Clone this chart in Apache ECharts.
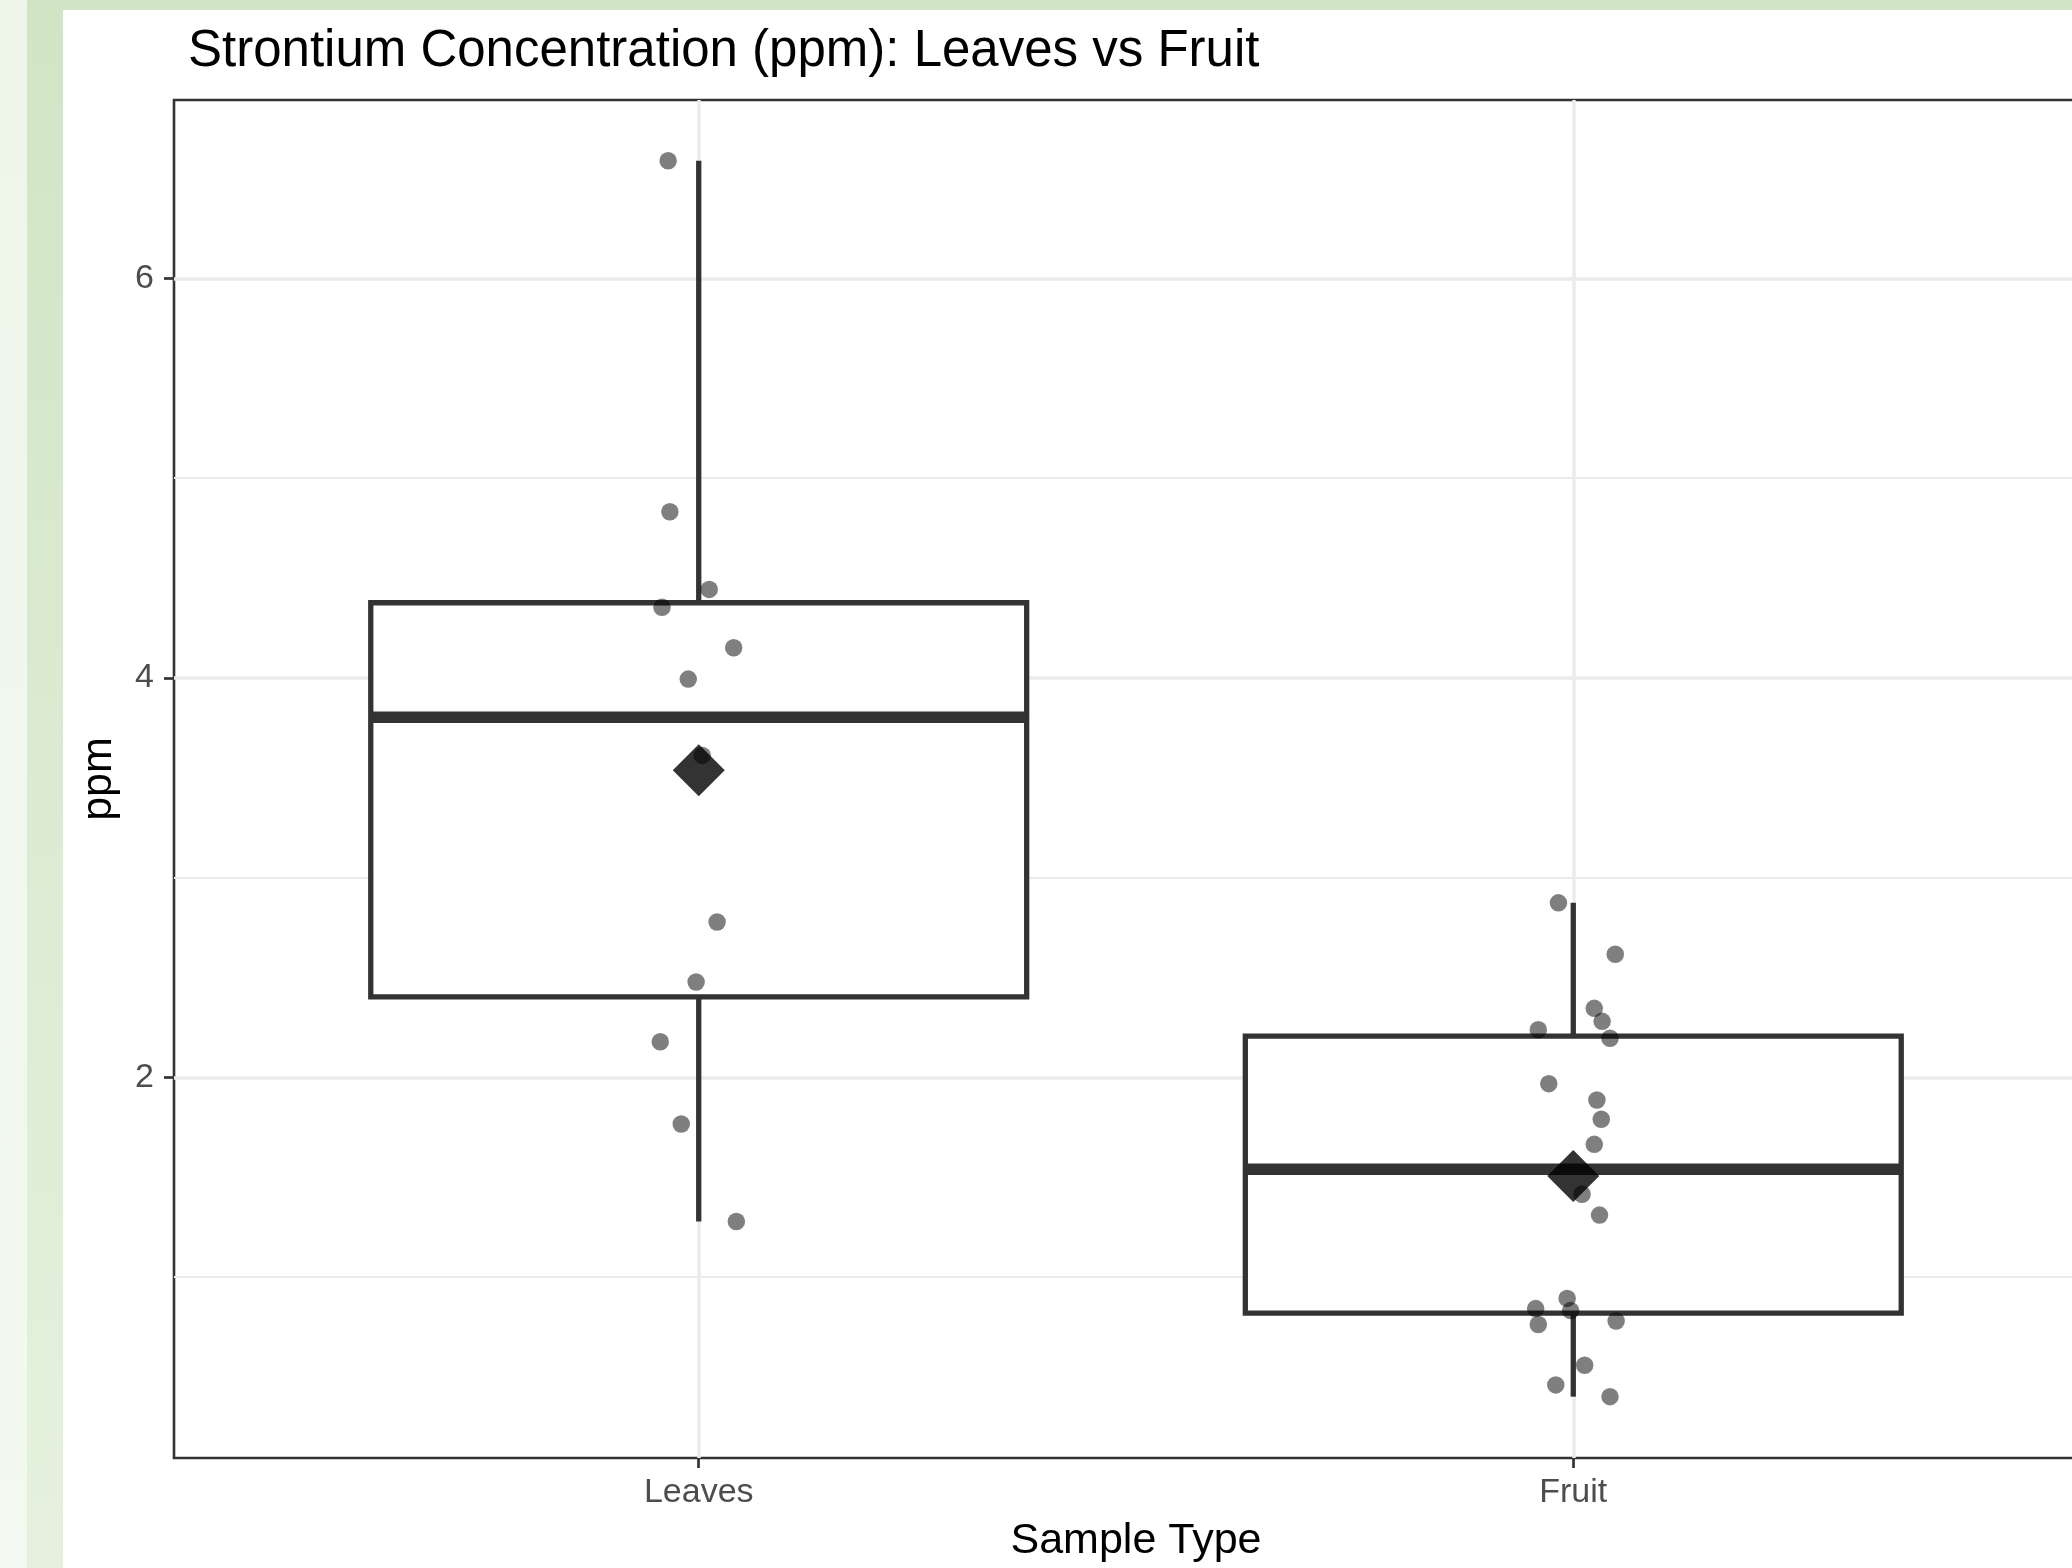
<!DOCTYPE html>
<html>
<head>
<meta charset="utf-8">
<script src="https://cdn.jsdelivr.net/npm/echarts@6/dist/echarts.min.js"></script>
<style>
  html, body { margin: 0; padding: 0; width: 2072px; height: 1568px; overflow: hidden; background: #ffffff; position: relative; }
  #bgL { position: absolute; left: 0; top: 0; width: 27px; height: 1568px; background: linear-gradient(#eef6ea, #f3f9f0); }
  #bgG { position: absolute; left: 27px; top: 0; width: 36px; height: 1568px; background: linear-gradient(#d1e5c5, #e5f1de); }
  #bgT { position: absolute; left: 27px; top: 0; width: 2045px; height: 10px; background: #d1e5c5; }
  #chart { position: absolute; left: 0; top: 0; width: 2110px; height: 1568px; }
</style>
</head>
<body>
<div id="bgL"></div>
<div id="bgG"></div>
<div id="bgT"></div>
<div id="chart"></div>
<script>
// ---- data ----
const CATEGORIES = ['Leaves', 'Fruit'];
const CATEGORY_POS = [1, 2];
const LEAVES_PPM = [6.589, 4.832, 4.443, 4.354, 4.151, 3.994, 3.612, 2.778, 2.478, 2.179, 1.767, 1.279];
const LEAVES_JITTER = [-0.035, -0.033, 0.012, -0.042, 0.040, -0.012, 0.004, 0.021, -0.003, -0.044, -0.020, 0.043];
const FRUIT_PPM = [2.874, 2.617, 2.346, 2.281, 2.239, 2.196, 1.969, 1.887, 1.791, 1.665, 1.415, 1.311, 0.894, 0.843, 0.833, 0.763, 0.781, 0.559, 0.461, 0.402];
const FRUIT_JITTER = [-0.017, 0.048, 0.024, 0.033, -0.040, 0.042, -0.028, 0.027, 0.032, 0.024, 0.010, 0.030, -0.007, -0.043, -0.003, -0.040, 0.049, 0.013, -0.020, 0.042];
const Y_TICKS = [2, 4, 6];
const Y_MINOR = [1, 3, 5];
const Y_MIN = 0.095;
const Y_MAX = 6.893;
const X_MIN = 0.4;
const X_MAX = 2.6;
const BOX_WIDTH = 0.75;

// ---- statistics (ggplot-style, quantile type 7) ----
function quantile(sorted, p) {
  const h = (sorted.length - 1) * p;
  const lo = Math.floor(h);
  const hi = Math.min(lo + 1, sorted.length - 1);
  return sorted[lo] + (h - lo) * (sorted[hi] - sorted[lo]);
}
function boxStats(values) {
  const s = values.slice().sort((a, b) => a - b);
  const q1 = quantile(s, 0.25), med = quantile(s, 0.5), q3 = quantile(s, 0.75);
  const iqr = q3 - q1;
  const lo = Math.min(...s.filter(v => v >= q1 - 1.5 * iqr));
  const hi = Math.max(...s.filter(v => v <= q3 + 1.5 * iqr));
  return [lo, q1, med, q3, hi];
}
const mean = a => a.reduce((x, y) => x + y, 0) / a.length;

const groups = [LEAVES_PPM, FRUIT_PPM];
const jitters = [LEAVES_JITTER, FRUIT_JITTER];
const boxData = groups.map((g, i) => [CATEGORY_POS[i]].concat(boxStats(g)));
const pointData = [];
groups.forEach((g, i) => g.forEach((v, j) => pointData.push([CATEGORY_POS[i] + jitters[i][j], v])));
const meanData = groups.map((g, i) => [CATEGORY_POS[i], mean(g)]);

const FONT = 'Liberation Sans, Arial, Helvetica, sans-serif';
const LINE = '#333333';

const chart = echarts.init(document.getElementById('chart'), null, { renderer: 'canvas' });
chart.setOption({
  backgroundColor: 'transparent',
  animation: false,
  title: {
    text: 'Strontium Concentration (ppm): Leaves vs Fruit',
    left: 183, top: 21,
    textStyle: { fontFamily: FONT, fontSize: 51, fontWeight: 'normal', color: '#000000' }
  },
  grid: { left: 174, top: 100, width: 1924, height: 1358, show: true, borderColor: LINE, borderWidth: 2.6, backgroundColor: 'transparent' },
  xAxis: {
    type: 'value', min: X_MIN, max: X_MAX,
    name: 'Sample Type', nameLocation: 'middle', nameGap: 62,
    nameTextStyle: { fontFamily: FONT, fontSize: 43, color: '#000000' },
    axisLine: { show: false },
    axisTick: { show: true, length: 10, customValues: CATEGORY_POS, lineStyle: { color: LINE, width: 2.7 } },
    axisLabel: { customValues: CATEGORY_POS, margin: 18, fontFamily: FONT, fontSize: 34, color: '#4d4d4d',
      formatter: v => CATEGORIES[Math.round(v) - 1] || '' },
    splitLine: { show: true, lineStyle: { color: '#ebebeb', width: 3.5 } }
  },
  yAxis: [{
    type: 'value', min: Y_MIN, max: Y_MAX,
    name: 'ppm', nameLocation: 'middle', nameGap: 53,
    nameTextStyle: { fontFamily: FONT, fontSize: 43, color: '#000000' },
    axisLine: { show: false },
    axisTick: { show: true, length: 10, customValues: Y_TICKS, lineStyle: { color: LINE, width: 2.7 } },
    axisLabel: { customValues: Y_TICKS, margin: 20, fontFamily: FONT, fontSize: 34, color: '#4d4d4d' },
    splitLine: { show: true, lineStyle: { color: '#ebebeb', width: 3.5 } }
  }, {
    type: 'value', min: Y_MIN, max: Y_MAX, position: 'left',
    axisLine: { show: false },
    axisTick: { show: false, customValues: Y_MINOR },
    axisLabel: { show: false, customValues: Y_MINOR },
    splitLine: { show: true, lineStyle: { color: '#ebebeb', width: 1.8 } }
  }],
  series: [{
    type: 'custom',
    z: 2,
    data: boxData,
    encode: { x: 0, y: [1, 2, 3, 4, 5] },
    renderItem: function (params, api) {
      const x = api.value(0);
      const lo = api.value(1), q1 = api.value(2), md = api.value(3), q3 = api.value(4), hi = api.value(5);
      const h = BOX_WIDTH / 2;
      const pHi = api.coord([x, hi]), pQ3 = api.coord([x, q3]), pQ1 = api.coord([x, q1]), pLo = api.coord([x, lo]);
      const tl = api.coord([x - h, q3]), br = api.coord([x + h, q1]);
      const mL = api.coord([x - h, md]), mR = api.coord([x + h, md]);
      return {
        type: 'group',
        children: [
          { type: 'line', shape: { x1: pHi[0], y1: pHi[1], x2: pQ3[0], y2: pQ3[1] }, style: { stroke: LINE, lineWidth: 5.3 } },
          { type: 'line', shape: { x1: pQ1[0], y1: pQ1[1], x2: pLo[0], y2: pLo[1] }, style: { stroke: LINE, lineWidth: 5.3 } },
          { type: 'rect', shape: { x: tl[0], y: tl[1], width: br[0] - tl[0], height: br[1] - tl[1] }, style: { fill: '#ffffff', stroke: LINE, lineWidth: 5.3 } },
          { type: 'line', shape: { x1: mL[0], y1: mL[1], x2: mR[0], y2: mR[1] }, style: { stroke: LINE, lineWidth: 11.5 } }
        ]
      };
    }
  }, {
    type: 'scatter',
    z: 3,
    data: pointData,
    symbol: 'circle',
    symbolSize: 17.5,
    itemStyle: { color: 'rgba(0,0,0,0.5)', opacity: 1 },
    emphasis: { disabled: true }
  }, {
    type: 'scatter',
    z: 4,
    data: meanData,
    symbol: 'diamond',
    symbolSize: 52,
    itemStyle: { color: 'rgba(0,0,0,0.8)', opacity: 1 },
    emphasis: { disabled: true }
  }]
});
</script>
</body>
</html>
